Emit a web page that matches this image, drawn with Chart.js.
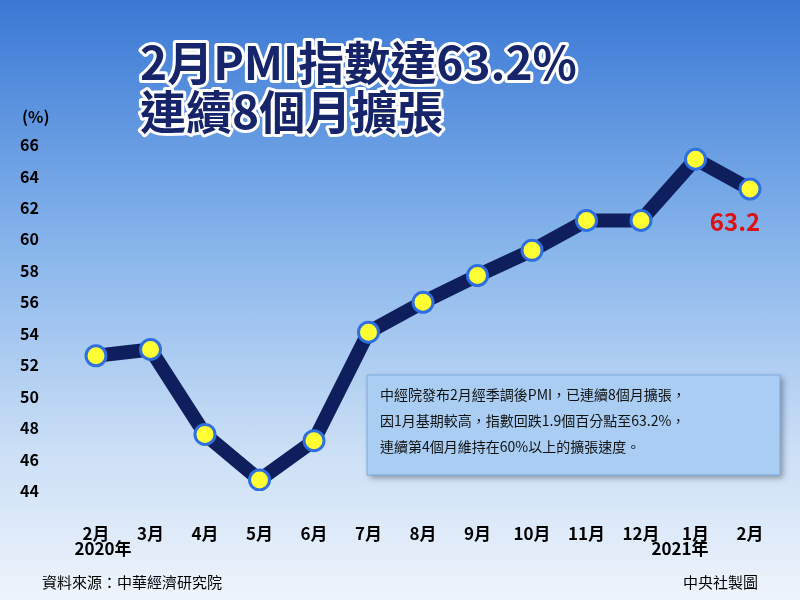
<!DOCTYPE html>
<html><head><meta charset="utf-8">
<script src="https://cdn.jsdelivr.net/npm/chart.js@4"></script>
<style>
html,body{margin:0;padding:0;}
body{width:800px;height:600px;background:linear-gradient(180deg,#3a78d4 0%,#85b4eb 40%,#cbdff6 75%,#eef4fb 100%);}
canvas{display:block;}
</style></head><body>
<canvas id="c" width="800" height="600"></canvas>
<script>
const categories=["2月","3月","4月","5月","6月","7月","8月","9月","10月","11月","12月","1月","2月"];
const pmiValues=[52.6,53.0,47.6,44.7,47.2,54.1,56.0,57.7,59.3,61.2,61.2,65.1,63.2];
const yTicks=[44,46,48,50,52,54,56,58,60,62,64,66];
const F='"Noto Sans CJK TC","Noto Sans",sans-serif';
const deco={id:'deco',afterDraw(ch){
 const c=ch.ctx;c.save();
 c.font='bold 46px '+F;c.lineJoin='round';c.lineWidth=6;c.strokeStyle='#fff';c.fillStyle='#16256a';
 c.textBaseline='alphabetic';
 [['2月PMI指數達63.2%',80],['連續8個月擴張',129]].forEach(([t,y])=>{c.strokeText(t,140,y);c.fillText(t,140,y);});
 c.font='bold 16px '+F;c.fillStyle='#000';c.fillText('(%)',22,123);
 c.textAlign='center';c.font='bold 17px '+F;
 c.fillText('2020年',103,555);c.fillText('2021年',680,555);
 c.textAlign='left';c.font='15px '+F;c.fillText('資料來源：中華經濟研究院',42,588);
 c.fillText('中央社製圖',683,588);
 c.font='bold 24px '+F;c.fillStyle='#e01010';c.textAlign='center';c.fillText(pmiValues[12].toFixed(1),735,231);
 c.shadowColor='rgba(0,0,0,0.35)';c.shadowBlur=6;c.shadowOffsetX=3;c.shadowOffsetY=3;
 c.fillStyle='#a9cdf3';c.fillRect(367,375,413,100);c.shadowColor='transparent';
 c.strokeStyle='#7fa9dc';c.lineWidth=1;c.strokeRect(367,375,413,100);
 c.fillStyle='#111';c.font='14px '+F;c.textAlign='left';
 ['中經院發布2月經季調後PMI，已連續8個月擴張，','因1月基期較高，指數回跌1.9個百分點至63.2%，','連續第4個月維持在60%以上的擴張速度。'].forEach((t,i)=>c.fillText(t,380,400+i*26));
 c.restore();}};
new Chart(document.getElementById('c'),{type:'line',
 data:{labels:categories,datasets:[{data:pmiValues,borderColor:'#0f1f5e',borderWidth:14,tension:0,
  pointRadius:10,pointBackgroundColor:'#ffff33',pointBorderColor:'#2f6fe0',pointBorderWidth:3}]},
 options:{responsive:false,animation:false,layout:{padding:{top:145,left:20,right:50,bottom:0}},
  plugins:{legend:{display:false},tooltip:{enabled:false}},
  scales:{
   x:{grid:{display:false},border:{display:false},ticks:{color:'#000',font:{family:F,size:17,weight:'bold'},padding:24,maxRotation:0,autoSkip:false},
      afterFit(s){s.height=109;}},
   y:{min:44,max:66,grid:{display:false},border:{display:false},
      afterBuildTicks(s){s.ticks=yTicks.map(v=>({value:v}));},
      ticks:{color:'#000',font:{family:F,size:16,weight:'bold'},crossAlign:'far',padding:0},
      afterFit(s){s.width=76;}}}},
 plugins:[deco]});
</script></body></html>
